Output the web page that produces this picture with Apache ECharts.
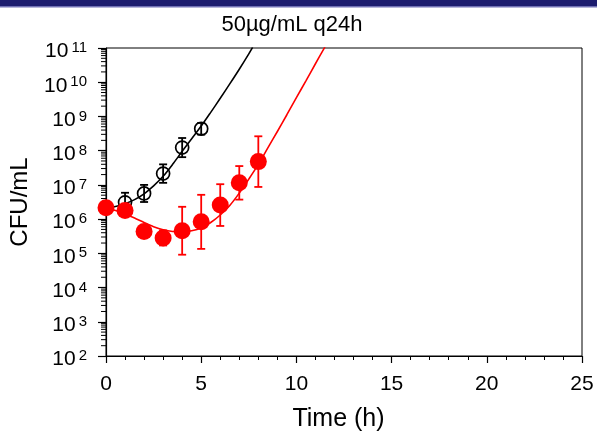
<!DOCTYPE html>
<html><head><meta charset="utf-8">
<script src="https://cdn.jsdelivr.net/npm/echarts@6/dist/echarts.min.js"></script>
<style>html,body{margin:0;padding:0;background:#fff}#c{width:597px;height:436px}</style>
</head><body><div id="c"></div>
<script>
// ---- data (log10 CFU/mL) ----
const titleText = '50µg/mL q24h';
const xName = 'Time (h)';
const yName = 'CFU/mL';
const redTimes = [0, 1, 2, 3, 4, 5, 6, 7, 8];
const redLog = [6.33, 6.25, 5.64, 5.45, 5.66, 5.92, 6.41, 7.06, 7.68];
const redErrLog = [0.1, 0.1, 0.1, 0.22, 0.70, 0.79, 0.61, 0.49, 0.74];
const blackTimes = [0, 1, 2, 3, 4, 5];
const blackLog = [6.33, 6.49, 6.75, 7.33, 8.09, 8.64];
const blackErrLog = [0.1, 0.28, 0.25, 0.27, 0.28, 0.17];
const blackCurveT = [0, 0.5, 1, 1.5, 2, 2.5, 3, 3.5, 4, 4.5, 5, 5.5, 6, 6.5, 7, 7.5, 7.7];
const blackCurveLog = [6.32, 6.37, 6.45, 6.57, 6.74, 6.97, 7.25, 7.6, 7.98, 8.35, 8.72, 9.12, 9.53, 9.95, 10.38, 10.83, 11.02];
const redCurveT = [0, 0.5, 1, 1.5, 2, 2.5, 3, 3.5, 4, 4.5, 5, 5.5, 6, 6.5, 7, 7.5, 8, 8.5, 9, 9.5, 10, 10.5, 11, 11.5];
const redCurveLog = [6.33, 6.25, 6.15, 6.03, 5.9, 5.78, 5.69, 5.64, 5.63, 5.66, 5.74, 5.9, 6.12, 6.4, 6.76, 7.17, 7.6, 8.08, 8.56, 9.05, 9.55, 10.04, 10.54, 11.03];
const xMin = 0, xMax = 25, xStep = 5;
const yMinExp = 2, yMaxExp = 11;

const FONT = '"Liberation Sans", Arial, sans-serif';
const p10 = v => Math.pow(10, v);

function errBars(t, logs, errs, color, z) {
  return {
    type: 'custom', clip: false, silent: true, z: z,
    data: t.map((x, i) => [x, p10(logs[i] - errs[i]), p10(logs[i] + errs[i])]),
    encode: { x: 0, y: [1, 2] },
    renderItem: (params, api) => {
      const lo = api.coord([api.value(0), api.value(1)]);
      const hi = api.coord([api.value(0), api.value(2)]);
      const w = 4;
      const st = { stroke: color, lineWidth: 1.8 };
      return { type: 'group', children: [
        { type: 'line', shape: { x1: lo[0], y1: lo[1], x2: hi[0], y2: hi[1] }, style: st },
        { type: 'line', shape: { x1: lo[0] - w, y1: lo[1], x2: lo[0] + w, y2: lo[1] }, style: st },
        { type: 'line', shape: { x1: hi[0] - w, y1: hi[1], x2: hi[0] + w, y2: hi[1] }, style: st }
      ] };
    }
  };
}

// minor tick values for the log axis (2..9 x 10^n)
const minorVals = [];
for (let e = yMinExp; e < yMaxExp; e++) for (let k = 2; k <= 9; k++) minorVals.push([xMin, k * p10(e)]);

const chart = echarts.init(document.getElementById('c'), null, { renderer: 'canvas' });
chart.setOption({
  animation: false,
  backgroundColor: '#fff',
  textStyle: { fontFamily: FONT },
  graphic: [
    { type: 'rect', shape: { x: 0, y: 0, width: 597, height: 6 }, style: { fill: '#1c1c6e' }, silent: true },
    { type: 'rect', shape: { x: 0, y: 6, width: 597, height: 1.5 }, style: { fill: '#7070b4' }, silent: true },
    { type: 'text', x: 292, y: 25, style: { text: titleText, font: '22px ' + FONT, fill: '#000', align: 'center', verticalAlign: 'middle' }, silent: true }
  ],
  grid: { left: 106, right: 15, top: 48, bottom: 80, show: true, borderColor: '#000', borderWidth: 1, containLabel: false, outerBoundsMode: 'none' },
  xAxis: {
    type: 'value', min: xMin, max: xMax, interval: xStep,
    name: xName, nameLocation: 'middle', nameGap: 51,
    nameTextStyle: { fontSize: 25, color: '#000', fontFamily: FONT, padding: [0, 11, 0, 0] },
    axisLine: { show: true, onZero: false, lineStyle: { color: '#000', width: 1.2 } },
    axisTick: { show: true, inside: false, length: 7, lineStyle: { color: '#000', width: 1.2 } },
    minorTick: { show: true, splitNumber: 5, length: 4, lineStyle: { color: '#000', width: 1 } },
    splitLine: { show: false },
    axisLabel: { fontSize: 21, color: '#000', margin: 18, fontFamily: FONT }
  },
  yAxis: {
    type: 'log', logBase: 10, min: p10(yMinExp), max: p10(yMaxExp), interval: 1, splitNumber: 9,
    name: yName, nameLocation: 'middle', nameGap: 74,
    nameTextStyle: { fontSize: 24, color: '#000', fontFamily: FONT },
    axisLine: { show: true, onZero: false, lineStyle: { color: '#000', width: 1.2 } },
    axisTick: { show: true, inside: false, length: 8, lineStyle: { color: '#000', width: 1.2 } },
    splitLine: { show: false },
    axisLabel: {
      margin: 19, padding: [7, 0, 0, 0],
      formatter: v => '{b|10}{s|' + Math.round(Math.log10(v)) + '}',
      rich: {
        b: { fontSize: 21, color: '#000', fontFamily: FONT, lineHeight: 22 },
        s: { fontSize: 15, color: '#000', fontFamily: FONT, verticalAlign: 'top', lineHeight: 15, padding: [0, 0, 0, 3] }
      }
    }
  },
  series: [
    {
      type: 'custom', clip: false, silent: true, z: 1, data: minorVals, encode: { x: 0, y: 1 },
      renderItem: (params, api) => {
        const p = api.coord([api.value(0), api.value(1)]);
        return { type: 'line', shape: { x1: p[0] - 5, y1: p[1], x2: p[0], y2: p[1] }, style: { stroke: '#000', lineWidth: 1 } };
      }
    },
    {
      type: 'line', z: 2, data: blackCurveT.map((t, i) => [t, p10(blackCurveLog[i])]),
      showSymbol: false, smooth: 0.3, lineStyle: { color: '#000', width: 1.6 }, silent: true
    },
    errBars(blackTimes, blackLog, blackErrLog, '#000', 3),
    {
      type: 'scatter', z: 4, data: blackTimes.map((t, i) => [t, p10(blackLog[i])]),
      symbol: 'circle', symbolSize: 13,
      itemStyle: { color: 'rgba(0,0,0,0)', borderColor: '#000', borderWidth: 1.7, opacity: 1 }, silent: true
    },
    {
      type: 'line', z: 5, data: redCurveT.map((t, i) => [t, p10(redCurveLog[i])]),
      showSymbol: false, smooth: 0.3, lineStyle: { color: '#ff0000', width: 1.6 }, silent: true
    },
    errBars(redTimes, redLog, redErrLog, '#ff0000', 6),
    {
      type: 'scatter', z: 7, data: redTimes.map((t, i) => [t, p10(redLog[i])]),
      symbol: 'circle', symbolSize: 17,
      itemStyle: { color: '#ff0000', borderWidth: 0, opacity: 1 }, silent: true
    }
  ]
});
</script></body></html>
